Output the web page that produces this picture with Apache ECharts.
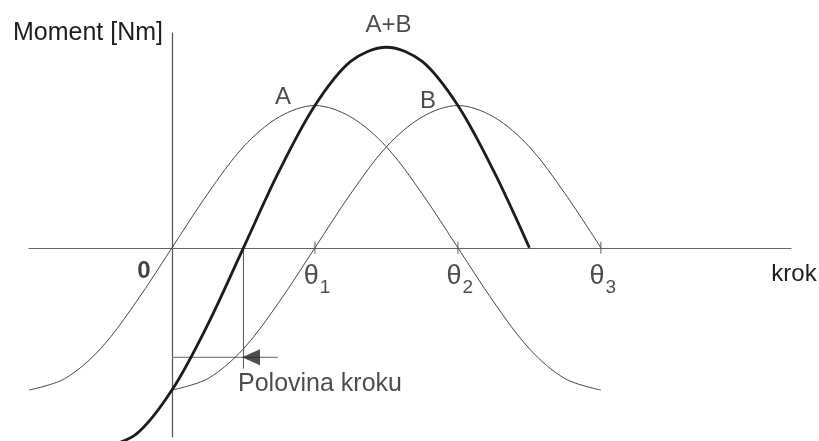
<!DOCTYPE html>
<html>
<head>
<meta charset="utf-8">
<title>Moment krokového motoru</title>
<script src="https://cdn.jsdelivr.net/npm/echarts@6/dist/echarts.min.js"></script>
<style>
  html, body { margin: 0; padding: 0; background: #ffffff; }
  #chart { width: 819px; height: 441px; }
</style>
</head>
<body>
<div id="chart"></div>
<script>
// Moment cívky A (v násobcích kroku θ)
const krokA = [-1, -0.75, -0.5, -0.25, 0, 0.25, 0.5, 0.75, 1, 1.25, 1.5, 1.75, 2, 2.25, 2.5, 2.75, 3];
const momentA = [-1, -0.92, -0.71, -0.38, 0, 0.38, 0.71, 0.92, 1, 0.92, 0.71, 0.38, 0, -0.38, -0.71, -0.92, -1];

// Moment cívky B
const krokB = [0, 0.25, 0.5, 0.75, 1, 1.25, 1.5, 1.75, 2, 2.25, 2.5, 2.75, 3];
const momentB = [-1, -0.92, -0.71, -0.38, 0, 0.38, 0.71, 0.92, 1, 0.92, 0.71, 0.38, 0];

// Výsledný moment A+B
const krokAB = [-0.5, -0.25, 0, 0.25, 0.5, 0.75, 1, 1.25, 1.5, 1.75, 2, 2.25, 2.5];
const momentAB = [-1.41, -1.31, -1, -0.54, 0, 0.54, 1, 1.31, 1.41, 1.31, 1, 0.54, 0];

// Značky a popisky na ose kroku
const thetaTicks = [1, 2, 3];
const tickValues = [0, 1, 2, 3];
const tickLabels = ['0', 'θ1', 'θ2', 'θ3'];

// Názvy křivek a bod, ke kterému se vážou (vrcholy)
const curveNames = ['A', 'B', 'A+B'];
const curvePeaks = [[1, 1], [2, 1], [1.5, 1.41]];

// Vyznačení poloviny kroku
const halfStepX = 0.5;
const halfStepDrop = -0.85;
const halfStepLevel = -0.77;
const halfStepLineEnd = 0.74;
const arrowX = 0.553;
const halfStepText = 'Polovina kroku';

const thinColor = '#474747';
const inkColor = '#1e1e1e';

const chart = echarts.init(document.getElementById('chart'), null, { renderer: 'canvas' });

const zip = (xs, ys) => xs.map((x, i) => [x, ys[i]]);

const nameOffsets = { 'A': [-32, -8], 'B': [-30, -4], 'A+B': [2, -22] };

const tickLabelItem = (v, i) => {
  const text = tickLabels[i];
  if (v === 0) {
    return {
      value: [v, 0],
      label: { formatter: '{z|0}', offset: [-28, 24] }
    };
  }
  return {
    value: [v, 0],
    label: { formatter: '{t|θ}{s|' + text.slice(1) + '}', offset: [2, 30] }
  };
};

const option = {
  backgroundColor: '#ffffff',
  animation: false,
  textStyle: { fontFamily: 'Liberation Sans, Arial, sans-serif' },
  grid: {
    left: 29, right: 28, top: 33, bottom: 4,
    containLabel: false,
    outerBoundsMode: 'none'
  },
  xAxis: {
    type: 'value',
    min: -1,
    max: 4.33,
    name: 'krok',
    nameLocation: 'end',
    nameGap: 3,
    nameTextStyle: {
      color: inkColor, fontSize: 24, align: 'center', verticalAlign: 'top',
      padding: [15, 0, 0, 0]
    },
    axisLine: { show: true, onZero: true, lineStyle: { color: '#66665c', width: 1.2 } },
    axisTick: { show: false },
    axisLabel: { show: false },
    splitLine: { show: false }
  },
  yAxis: {
    type: 'value',
    min: -1.33,
    max: 1.51,
    name: 'Moment [Nm]',
    nameLocation: 'end',
    nameGap: 0,
    nameTextStyle: {
      color: inkColor, fontSize: 25, align: 'right', verticalAlign: 'middle',
      padding: [0, 9, 0, 0]
    },
    axisLine: { show: true, onZero: true, lineStyle: { color: '#555555', width: 1.2 } },
    axisTick: { show: false },
    axisLabel: { show: false },
    splitLine: { show: false }
  },
  series: [
    {
      name: 'A',
      type: 'line',
      data: zip(krokA, momentA),
      smooth: 0.33,
      showSymbol: false,
      lineStyle: { color: thinColor, width: 1 },
      z: 3
    },
    {
      name: 'B',
      type: 'line',
      data: zip(krokB, momentB),
      smooth: 0.33,
      showSymbol: false,
      lineStyle: { color: thinColor, width: 1 },
      z: 3
    },
    {
      name: 'A+B',
      type: 'line',
      data: zip(krokAB, momentAB),
      smooth: 0.33,
      showSymbol: false,
      clip: false,
      lineStyle: { color: '#1c1c1c', width: 2.8 },
      z: 4
    },
    {
      // svislá čára v polovině kroku
      type: 'line',
      data: [[halfStepX, 0], [halfStepX, halfStepDrop]],
      showSymbol: false,
      lineStyle: { color: '#555555', width: 1 },
      z: 2
    },
    {
      // vodorovná čára k šipce
      type: 'line',
      data: [[0, halfStepLevel], [halfStepLineEnd, halfStepLevel]],
      showSymbol: false,
      lineStyle: { color: '#8c8450', width: 1.2 },
      z: 2
    },
    {
      // šipka s popisem
      type: 'scatter',
      data: [[arrowX, halfStepLevel]],
      symbol: 'triangle',
      symbolSize: [16, 18],
      symbolRotate: 90,
      itemStyle: { color: '#222222' },
      label: {
        show: true,
        position: 'inside',
        align: 'left',
        verticalAlign: 'middle',
        offset: [-13, 27],
        formatter: halfStepText,
        color: inkColor,
        fontSize: 25
      },
      z: 5
    },
    {
      // značky θ na ose
      type: 'scatter',
      data: thetaTicks.map(v => [v, 0]),
      symbol: 'rect',
      symbolSize: [1.2, 12],
      itemStyle: { color: '#555555' },
      z: 5
    },
    {
      // popisky osy kroku
      type: 'scatter',
      data: tickValues.map(tickLabelItem),
      symbolSize: 0,
      label: {
        show: true,
        position: 'inside',
        color: inkColor,
        rich: {
          z: { fontSize: 24, fontWeight: 'bold', color: '#111111', lineHeight: 26 },
          t: { fontSize: 27, color: inkColor, lineHeight: 30, verticalAlign: 'top' },
          s: { fontSize: 19, color: inkColor, lineHeight: 19, verticalAlign: 'top', padding: [15, 0, 0, 1] }
        }
      },
      z: 6
    },
    {
      // názvy křivek
      type: 'scatter',
      data: curvePeaks.map((p, i) => ({
        value: p,
        name: curveNames[i],
        label: { offset: nameOffsets[curveNames[i]] }
      })),
      symbolSize: 0,
      label: {
        show: true,
        position: 'inside',
        formatter: '{b}',
        color: inkColor,
        fontSize: 24
      },
      z: 6
    }
  ]
};

chart.setOption(option);
</script>
</body>
</html>
